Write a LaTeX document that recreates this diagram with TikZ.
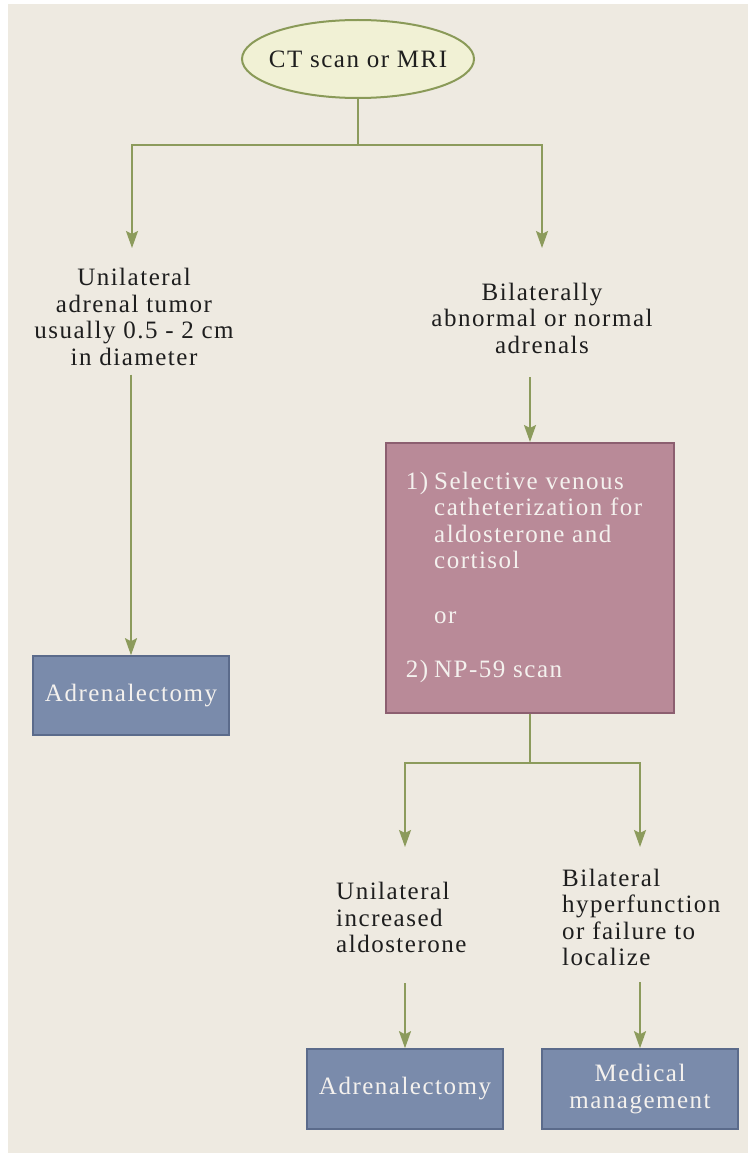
\documentclass[tikz,border=0pt]{standalone}
\usepackage{fontspec}
\setmainfont{Liberation Serif}[LetterSpace=6]
\usetikzlibrary{arrows.meta,shapes.geometric}

\definecolor{pagebeige}{HTML}{EEEAE1}
\definecolor{flowgreen}{HTML}{8C9B5C}
\definecolor{scanfill}{HTML}{F1F1D5}
\definecolor{scanline}{HTML}{8A9A58}
\definecolor{testfill}{HTML}{B98A98}
\definecolor{testline}{HTML}{8C5F70}
\definecolor{treatfill}{HTML}{7A8BAB}
\definecolor{treatline}{HTML}{5B6B8B}
\definecolor{inktext}{HTML}{1E1E1E}
\definecolor{boxtext}{HTML}{F4F1EE}

\tikzset{
    arrowline/.style={draw=flowgreen, line width=2pt, -{Stealth[length=17pt,width=12pt,inset=3pt]}},
    plainline/.style={draw=flowgreen, line width=2pt},
    caption/.style={text=inktext, inner sep=0pt},
    treatbox/.style={rectangle, draw=treatline, line width=1.6pt, fill=treatfill, text=boxtext, minimum width=196pt, minimum height=80pt, align=center},
}

\begin{document}
\begin{tikzpicture}[x=1pt, y=-1pt, font=\fontsize{25}{26.5}\selectfont]
        \useasboundingbox (0,0) rectangle (748,1153);
        \fill[white] (0,0) rectangle (748,1153);
        \fill[pagebeige] (8,4) rectangle (748,1153); % page

        \node (ct) at (358,59) [ellipse, draw=scanline, line width=2pt, fill=scanfill, text=inktext, minimum width=232pt, minimum height=78pt, inner xsep=-30pt, inner ysep=0pt]{CT scan or MRI}; % imaging
        \node (tumor) at (134,317) [caption, align=center]{Unilateral\\ adrenal tumor\\ usually 0.5 - 2 cm\\ in diameter};
        \node (bilat) at (542,318) [caption, align=center]{Bilaterally\\ abnormal or normal\\ adrenals};
        \node (adr1) at (131,695.5) [treatbox, minimum height=79pt]{Adrenalectomy};
        \node (test) at (530,578) [rectangle, draw=testline, line width=2pt, fill=testfill, text=boxtext, minimum width=288pt, minimum height=270pt, inner sep=0pt]{%
            \begin{tabular}{@{}l@{\hspace{6pt}}l@{\hspace{12pt}}}
            1) & Selective venous\\
               & catheterization for\\
               & aldosterone and\\
               & cortisol\\[28pt]
               & or\\[28pt]
            2) & NP-59 scan
            \end{tabular}}; % localization tests
        \node (uni2) at (336,917.5) [caption, anchor=west, align=left]{Unilateral\\ increased\\ aldosterone};
        \node (bilat2) at (562,917.5) [caption, anchor=west, align=left]{Bilateral\\ hyperfunction\\ or failure to\\ localize};
        \node (adr2) at (405,1089) [treatbox]{Adrenalectomy};
        \node (med) at (640,1089) [treatbox]{Medical\\ management};

        \coordinate (split1) at (358,145);
        \coordinate (tip1) at (132,248);
        \coordinate (tip2) at (542,248);
        \coordinate (split2) at (530,763);
        \coordinate (tip3) at (405,847);
        \coordinate (tip4) at (640,847);

        \draw[plainline] (ct.south) -- (split1);
        \draw[arrowline] (split1) -| (tip1);
        \draw[arrowline] (split1) -| (tip2);
        \draw[arrowline] (adr1.north |- tumor.south) ++(0,9) -- (adr1.north);
        \draw[arrowline] (test.north |- bilat.south) ++(0,24) -- (test.north);
        \draw[plainline] (test.south) -- (split2);
        \draw[arrowline] (split2) -| (tip3);
        \draw[arrowline] (split2) -| (tip4);
        \draw[arrowline] (adr2.north |- uni2.south) ++(0,30) -- (adr2.north);
        \draw[arrowline] (med.north |- bilat2.south) ++(0,16) -- (med.north);
\end{tikzpicture}
\end{document}
